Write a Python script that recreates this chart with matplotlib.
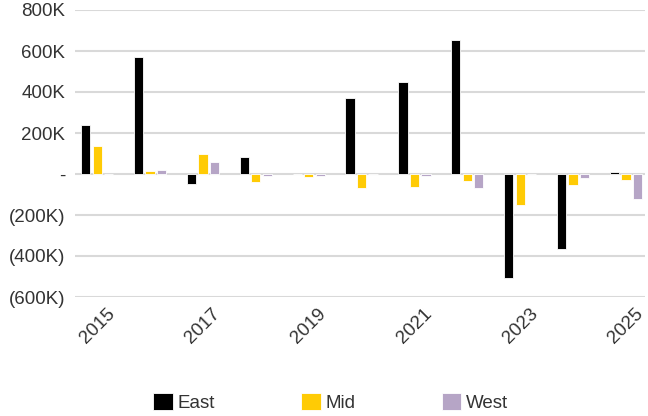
import matplotlib
matplotlib.use("Agg")
import matplotlib.pyplot as plt
import numpy as np

# values in thousands
years = [2015, 2016, 2017, 2018, 2019, 2020, 2021, 2022, 2023, 2024, 2025]
east = [239, 569, -50, 81, -2, 372, 447, 652, -507, -366, 10]
mid = [138, 15, 98, -39, -13, -70, -62, -34, -150, -55, -31]
west = [-2, 18, 57, -8, -8, -2, -8, -67, -1, -21, -123]
series_names = ["East", "Mid", "West"]
colors = ["#000000", "#FFCB05", "#B6A5C6"]
ytick_vals = [-600, -400, -200, 0, 200, 400, 600, 800]


def fmt_k(v):
    if v == 0:
        return "-"
    if v < 0:
        return "(%dK)" % abs(v)
    return "%dK" % v


plt.rcParams["font.family"] = ["Liberation Sans", "DejaVu Sans"]
text_col = "#333333"
fs = 13.5

fig = plt.figure(figsize=(6.48, 4.16), dpi=100)
ax = fig.add_axes([75 / 648, 1 - 297 / 416, 570 / 648, 287 / 416])

x = np.arange(len(years))
step = 0.217
width = 0.175
for k, (vals, name, col) in enumerate(zip([east, mid, west], series_names, colors)):
    ax.bar(x + (k - 1) * step, vals, width=width, color=col, label=name,
           edgecolor="white", linewidth=0.6, zorder=3)

ax.set_ylim(-600, 800)
ax.set_xlim(-0.42, 10.36)
ax.set_yticks(ytick_vals)
ax.set_yticklabels([fmt_k(v) for v in ytick_vals])
ax.yaxis.grid(True, color="#d9d9d9", linewidth=1.5, zorder=0)
ax.set_axisbelow(True)
for s in ax.spines.values():
    s.set_visible(False)
ax.tick_params(axis="y", length=0, pad=7, labelsize=fs, labelcolor=text_col)

ax.set_xticks(x[::2])
ax.set_xticklabels([str(y) for y in years[::2]], rotation=45, ha="center",
                   fontsize=fs, color=text_col)
ax.tick_params(axis="x", length=0, pad=6)

leg = fig.legend(loc="lower center", bbox_to_anchor=(0.51, -0.03), ncol=3,
                 frameon=False, fontsize=fs, handlelength=1.05, handleheight=1.05,
                 handletextpad=0.25, columnspacing=4.6)
for t in leg.get_texts():
    t.set_color(text_col)

fig.savefig("out.png", dpi=100)
